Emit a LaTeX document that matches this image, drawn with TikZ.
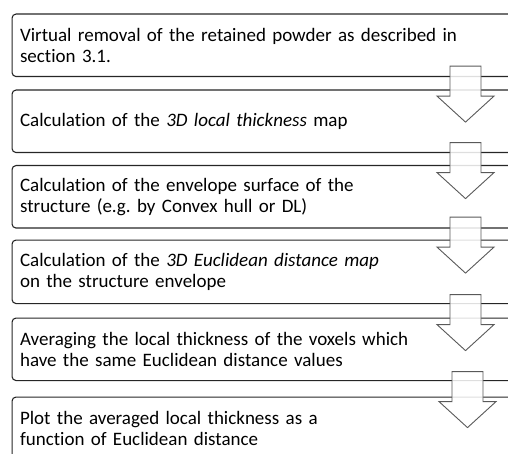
\documentclass[tikz,border=0pt]{standalone}
\usepackage{fontspec}
\setmainfont[Ligatures=NoCommon]{Carlito}
\usetikzlibrary{calc}
\begin{document}
\frenchspacing
\begin{tikzpicture}[x=1pt,y=-1pt,
  stepbox/.style={draw=black!85, line width=1.1pt, rounded corners=4pt, anchor=north west,
    minimum width=540pt, text width=524pt, inner xsep=8pt, inner ysep=2pt, align=left,
    font=\fontsize{19}{20.8}\selectfont},
  blockarrow/.style={draw=black!65, line width=0.9pt, fill=white, fill opacity=0.85},
  pics/blockdown/.style={code={
    \draw[blockarrow] (-15.5,0) -- (15.5,0) -- (15.5,30) -- (28.5,30) -- (0,56)
      -- (-28.5,30) -- (-15.5,30) -- cycle;}}]
\useasboundingbox (0,0) rectangle (508,454);
\clip (0,0) rectangle (508,454);
\node[stepbox, minimum height=62.5pt] (s1) at (11.5,13.5)
  {Virtual removal of the retained powder as described in\\section 3.1.};
\node[stepbox, minimum height=62.5pt] (s2) at (11.5,89.5)
  {Calculation of the \textit{3D local thickness} map};
\node[stepbox, minimum height=62.5pt] (s3) at (11.5,165)
  {Calculation of the envelope surface of the\\structure (e.g. by Convex hull or DL)};
\node[stepbox, minimum height=63.5pt] (s4) at (11.5,239.5)
  {Calculation of the \textit{3D Euclidean distance map}\\on the structure envelope};
\node[stepbox, minimum height=62.5pt] (s5) at (11.5,317.5)
  {Averaging the local thickness of the voxels which\\have the same Euclidean distance values};
\node[stepbox, minimum height=62.5pt] (s6) at (11.5,396.5)
  {Plot the averaged local thickness as a\\function of Euclidean distance};
\coordinate (ax) at (465.5,0);
\coordinate (bx) at (467.5,0);
\pic at ($(s1.south -| ax)+(0,-11)$) {blockdown};
\pic at ($(s2.south -| ax)+(0,-10.5)$) {blockdown};
\pic at ($(s3.south -| ax)+(0,-11.5)$) {blockdown};
\pic at ($(s4.south -| ax)+(0,-9.5)$) {blockdown};
\pic at ($(s5.south -| bx)+(0,-9.5)$) {blockdown};
\end{tikzpicture}
\end{document}
